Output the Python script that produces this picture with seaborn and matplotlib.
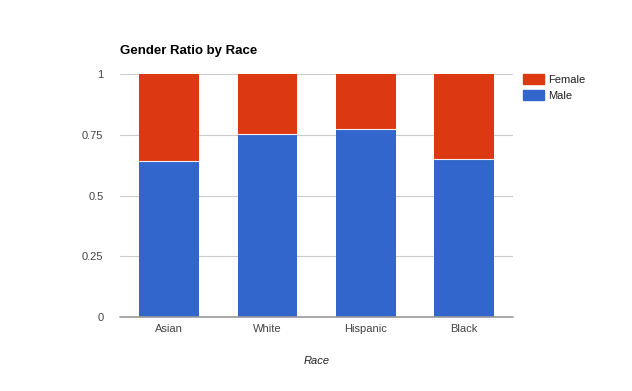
import pandas as pd
import matplotlib.pyplot as plt
import seaborn as sns
from matplotlib.patches import Patch

races = ["Asian", "White", "Hispanic", "Black"]
male = [0.643, 0.752, 0.775, 0.651]
female = [0.357, 0.248, 0.225, 0.349]

MALE_C = "#3366cc"
FEMALE_C = "#dc3912"

sns.set_theme(style="white")
plt.rcParams['font.family'] = ['Liberation Sans', 'DejaVu Sans']

df = pd.DataFrame({"race": races, "male": male, "female": female})
df["total"] = df["male"] + df["female"]

fig = plt.figure(figsize=(6.32, 3.91), dpi=100)
ax = fig.add_axes([0.19, 0.189, 0.622, 0.622])

# stacked bars: total (female on top) then male over it
sns.barplot(data=df, x="race", y="total", color=FEMALE_C, saturation=1,
            width=0.61, ax=ax, edgecolor="none")
sns.barplot(data=df, x="race", y="male", color=MALE_C, saturation=1,
            width=0.61, ax=ax, edgecolor="none")
# thin light separator where segments meet
for i, m in enumerate(df["male"]):
    ax.plot([i - 0.305, i + 0.305], [m, m], color="#f0f0f0", lw=0.8, zorder=3)

ax.set_xlim(-0.5, 3.5)
ax.set_ylim(0, 1)
ax.set_yticks([0, 0.25, 0.5, 0.75, 1])
ax.set_yticklabels(["0", "0.25", "0.5", "0.75", "1"])
for y in [0.25, 0.5, 0.75, 1]:
    ax.axhline(y, color="#cccccc", lw=0.8, zorder=0)
ax.axhline(0, color="#999999", lw=1.2, zorder=4, clip_on=False)

for s in ax.spines.values():
    s.set_visible(False)
ax.tick_params(axis="both", length=0, labelsize=8, colors="#444444")
ax.tick_params(axis="y", pad=12)
ax.tick_params(axis="x", pad=5)

ax.set_ylabel("")
ax.set_xlabel("Race", fontsize=8, style="italic", color="#222222", labelpad=16)
ax.set_title("Gender Ratio by Race", fontsize=9.5, fontweight="bold",
             color="#000000", loc="left", pad=14, x=0.0)

handles = [Patch(color=FEMALE_C, label="Female"), Patch(color=MALE_C, label="Male")]
fig.legend(handles=handles, loc="upper left", bbox_to_anchor=(0.827, 0.810),
           frameon=False, fontsize=8, handlelength=1.9, handleheight=0.9,
           handletextpad=0.35, labelspacing=0.5, labelcolor="#222222",
           borderpad=0, borderaxespad=0)

fig.savefig("out.png", dpi=100)
